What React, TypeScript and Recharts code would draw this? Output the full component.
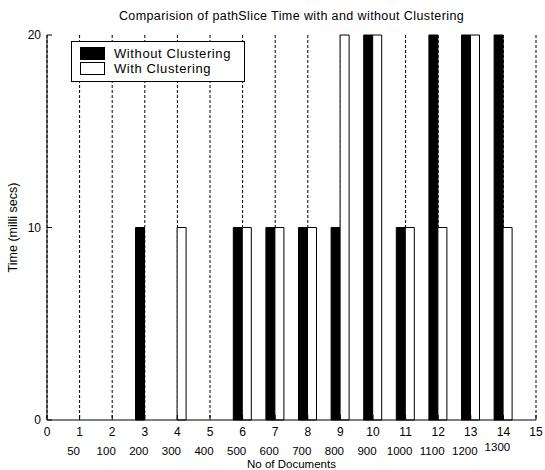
import { BarChart, Bar, XAxis, YAxis, CartesianGrid, Legend } from 'recharts'

// group positions on the x axis and the document count shown under each
const positions = [1, 2, 3, 4, 5, 6, 7, 8, 9, 10, 11, 12, 13, 14]
const docCounts = ['50', '100', '200', '300', '400', '500', '600', '700', '800', '900', '1000', '1100', '1200', '1300']

// pathSlice time in milli secs
const withoutClustering = [0, 0, 10, 0, 0, 10, 10, 10, 10, 20, 10, 20, 20, 20]
const withClustering = [0, 0, 0, 10, 0, 10, 10, 10, 20, 20, 10, 10, 20, 10]

const seriesNames = ['Without Clustering', 'With Clustering']
const xTicks = [0, 1, 2, 3, 4, 5, 6, 7, 8, 9, 10, 11, 12, 13, 14, 15]
const yTicks = [0, 10, 20]

const data = positions.map((x, i) => ({
    x,
    without: withoutClustering[i],
    with: withClustering[i],
}))

const FONT = '"Liberation Sans", Arial, sans-serif'

function NoTick() {
    return <g />
}

function DocTick(props: any) {
    const { x, y, payload } = props
    const idx = positions.indexOf(payload.value)
    const docs = idx >= 0 ? docCounts[idx] : null
    const last = idx === docCounts.length - 1
    return (
        <g>
            <text x={x} y={y + 16} textAnchor="middle" fontSize={12} fill="#000">
                {payload.value}
            </text>
            {docs && (
                <text x={x - 6} y={y + (last ? 31 : 34.5)} textAnchor="middle" fontSize={11.5} fill="#000">
                    {docs}
                </text>
            )}
        </g>
    )
}

function XLabel(props: any) {
    const { x, y, width } = props.viewBox
    return (
        <text x={x + width / 2} y={y + 48} textAnchor="middle" fontSize={11.5} fill="#000">
            No of Documents
        </text>
    )
}

function YLabel(props: any) {
    const { y, height } = props.viewBox
    const cx = 13
    const cy = y + height / 2
    return (
        <text
            x={cx}
            y={cy}
            textAnchor="middle"
            dominantBaseline="central"
            fontSize={12.5}
            fill="#000"
            transform={`rotate(-90 ${cx} ${cy})`}
        >
            Time (milli secs)
        </text>
    )
}

function LegendBox(props: any) {
    const items = [...(props.payload || [])].sort(
        (a: any, b: any) => seriesNames.indexOf(a.value) - seriesNames.indexOf(b.value)
    )
    return (
        <div
            style={{
                boxSizing: 'border-box',
                width: 174,
                height: 41,
                border: '1px solid #000',
                background: '#fff',
                padding: '4px 0 0 8px',
                fontFamily: FONT,
                fontSize: 13,
            }}
        >
            {items.map((entry: any) => (
                <div key={entry.value} style={{ display: 'flex', alignItems: 'center', height: 15 }}>
                    <div
                        style={{
                            boxSizing: 'border-box',
                            width: 25,
                            height: 13,
                            border: '1px solid #000',
                            background: entry.payload?.fill ?? entry.color,
                            marginRight: 9,
                        }}
                    />
                    <span style={{ color: '#000', letterSpacing: 0.6 }}>{entry.value}</span>
                </div>
            ))}
        </div>
    )
}

export default function App() {
    return (
        <div style={{ position: 'absolute', left: 0, top: 0, width: 545, height: 470, background: '#fff', fontFamily: FONT }}>
            <div
                style={{
                    position: 'absolute',
                    left: 47,
                    top: 9,
                    width: 489,
                    textAlign: 'center',
                    fontSize: 12.5,
                    letterSpacing: 0.4,
                    color: '#000',
                    zIndex: 1,
                }}
            >
                Comparision of pathSlice Time with and without Clustering
            </div>
            <BarChart
                width={545}
                height={470}
                data={data}
                margin={{ top: 35, right: 9, left: 0, bottom: 0 }}
                barGap={0}
                barSize={9}
            >
                <CartesianGrid horizontal={false} stroke="#000" strokeDasharray="3 2" />
                <XAxis
                    dataKey="x"
                    type="number"
                    domain={[0, 15]}
                    ticks={xTicks}
                    interval={0}
                    height={50}
                    tickSize={-5}
                    tickMargin={5}
                    stroke="#000"
                    tick={<DocTick />}
                    label={{ content: <XLabel /> }}
                />
                <XAxis
                    xAxisId="top"
                    orientation="top"
                    dataKey="x"
                    type="number"
                    domain={[0, 15]}
                    ticks={xTicks}
                    interval={0}
                    height={0}
                    tickSize={-5}
                    tick={<NoTick />}
                    stroke="#000"
                />
                <YAxis
                    domain={[0, 20]}
                    ticks={yTicks}
                    width={47}
                    tickSize={-5}
                    tickMargin={11}
                    stroke="#000"
                    tick={{ fill: '#000', fontSize: 12 }}
                    label={{ content: <YLabel /> }}
                />
                <YAxis
                    yAxisId="right"
                    orientation="right"
                    domain={[0, 20]}
                    ticks={yTicks}
                    width={0}
                    tickSize={-5}
                    tick={<NoTick />}
                    stroke="#000"
                />
                <Legend
                    layout="vertical"
                    align="center"
                    verticalAlign="middle"
                    wrapperStyle={{ top: 41, left: 71, width: 174 }}
                    content={<LegendBox />}
                />
                <Bar
                    dataKey="without"
                    name={seriesNames[0]}
                    fill="#000"
                    stroke="#000"
                    isAnimationActive={false}
                />
                <Bar
                    dataKey="with"
                    name={seriesNames[1]}
                    fill="#fff"
                    stroke="#000"
                    isAnimationActive={false}
                />
            </BarChart>
        </div>
    )
}
